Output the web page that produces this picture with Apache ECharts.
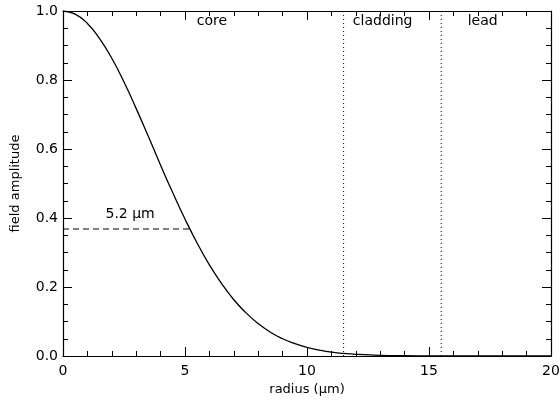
<!DOCTYPE html>
<html><head><meta charset="utf-8">
<script src="https://cdn.jsdelivr.net/npm/echarts@6/dist/echarts.min.js"></script>
<style>html,body{margin:0;padding:0;background:#fff}#c{width:560px;height:400px}</style>
</head><body><div id="c"></div>
<script>
// Field amplitude vs radius
var radius = [0,0.5,1,1.5,2,2.5,3,3.5,4,4.5,5,5.5,6,6.5,7,7.5,8,8.5,9,9.5,10,10.5,11,11.5,12,13,14,15,16,17,18,19,20];
var amplitude = [1.0,0.991,0.964,0.920,0.863,0.794,0.717,0.636,0.553,0.473,0.397,0.327,0.264,0.210,0.163,0.125,0.094,0.069,0.050,0.036,0.025,0.017,0.011,0.0075,0.0049,0.0019,0.0007,0.0002,0.0001,0,0,0,0];
var boundaries = [11.5, 15.5];
var regionNames = ['core','cladding','lead'];
var regionX = [6.1, 13.1, 17.2];
var regionY = 0.97;
var widthRadius = 5.2;
var widthLevel = 0.368;
var widthLabel = '5.2 \u03bcm';
var widthLabelPos = [2.75, 0.41];

var FONT = 'DejaVu Sans';
var chart = echarts.init(document.getElementById('c'), null, {renderer:'canvas'});
function xa(pos, labels, interval, len, showLine){
  return {type:'value', min:0, max:20, interval:interval, position:pos,
    axisLine:{show:showLine, onZero:false, lineStyle:{color:'#000', width:1.2}},
    axisTick:{show:true, inside:true, length:len, lineStyle:{color:'#000', width:1}},
    minorTick:{show:false}, splitLine:{show:false},
    axisLabel:{show:labels, color:'#000', fontFamily:FONT, fontSize:14, margin:8},
    name: labels ? 'radius (\u03bcm)' : '', nameLocation:'middle', nameGap:23,
    nameTextStyle:{color:'#000', fontFamily:FONT, fontSize:13}};
}
function ya(pos, labels, interval, len, showLine){
  return {type:'value', min:0, max:1, interval:interval, position:pos,
    axisLine:{show:showLine, onZero:false, lineStyle:{color:'#000', width:1.2}},
    axisTick:{show:true, inside:true, length:len, lineStyle:{color:'#000', width:1}},
    minorTick:{show:false}, splitLine:{show:false},
    axisLabel:{show:labels, color:'#000', fontFamily:FONT, fontSize:14, margin:5,
      formatter:function(v){return v.toFixed(1);}},
    name: labels ? 'field amplitude' : '', nameLocation:'middle', nameGap:41,
    nameTextStyle:{color:'#000', fontFamily:FONT, fontSize:13}};
}
var lbl = {show:true, position:'inside', color:'#000', fontFamily:FONT, fontSize:14, textBorderWidth:0, opacity:1};
var series = [
  {type:'line', xAxisIndex:0, yAxisIndex:0, data: radius.map(function(r,i){return [r, amplitude[i]];}),
   smooth:true, showSymbol:false, lineStyle:{color:'#000', width:1.3}, silent:true, z:5},
  {type:'line', data:[[0,widthLevel],[widthRadius,widthLevel]], showSymbol:false,
   lineStyle:{color:'#000', width:1.1, type:[6,4]}, silent:true},
  {type:'scatter', symbolSize:0, itemStyle:{opacity:1, color:'#000'}, data:[widthLabelPos],
   label:Object.assign({}, lbl, {formatter:widthLabel}), silent:true},
  {type:'scatter', symbolSize:0, itemStyle:{opacity:1, color:'#000'}, data: regionNames.map(function(n,i){return {value:[regionX[i], regionY], name:n};}),
   label:Object.assign({}, lbl, {formatter:'{b}'}), silent:true}
];
boundaries.forEach(function(b){
  series.push({type:'line', data:[[b,0],[b,1]], showSymbol:false,
    lineStyle:{color:'#000', width:1, type:[1,3]}, silent:true});
});
chart.setOption({
  animation:false,
  backgroundColor:'#fff',
  grid:{left:63, right:9, top:11, bottom:44, outerBoundsMode:'none', containLabel:false},
  xAxis:[xa('bottom', true, 5, 9, true), xa('top', false, 5, 9, true), xa('bottom', false, 1, 5, false), xa('top', false, 1, 5, false)],
  yAxis:[ya('left', true, 0.2, 9, true), ya('right', false, 0.2, 9, true), ya('left', false, 0.05, 5, false), ya('right', false, 0.05, 5, false)],
  series: series
});
</script></body></html>
